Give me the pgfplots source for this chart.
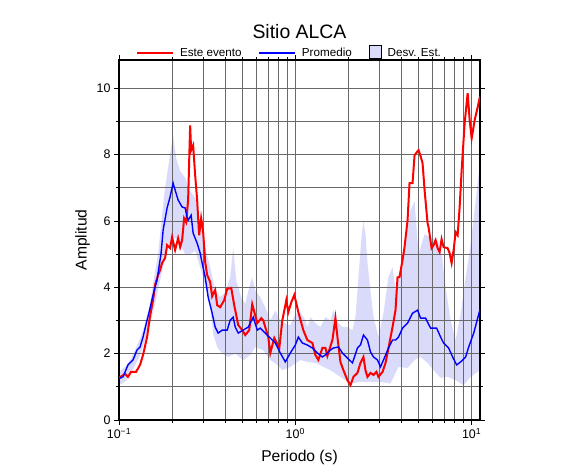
\documentclass[border=0pt]{standalone}
\usepackage{fontspec}
\setmainfont{Liberation Sans}
\usepackage{pgfplots}
\pgfplotsset{compat=1.18}
\definecolor{bandcol}{RGB}{218,218,250}
\definecolor{gridcol}{RGB}{105,105,105}

\begin{document}
\begin{tikzpicture}
\begin{axis}[
    set layers,
    scale only axis,
    width=361bp, height=360bp,
    xmode=log,
    xmin=0.1, xmax=11.15,
    ymin=0, ymax=10.85,
    xtick={0.1,1,10},
    xticklabels={10\textsuperscript{−1},10\textsuperscript{0},10\textsuperscript{1}},
    ytick={0,2,4,6,8,10},
    minor ytick={1,3,5,7,9},
    /pgf/number format/assume math mode=true,
    grid=both,
    grid style={draw=gridcol, line width=0.75bp},
    major grid style={draw=gridcol, line width=0.75bp},
    tick align=outside,
    major tick length=5bp,
    minor tick length=3bp,
    tick style={black, line width=0.75bp},
    axis line style={line width=1.6bp},
    ticklabel style={font=\fontsize{12.5}{14}\selectfont},
    xlabel={Periodo (s)},
    ylabel={Amplitud},
    label style={font=\fontsize{15.7}{18}\selectfont},
    xlabel style={yshift=-4bp},
    title={Sitio ALCA},
    title style={font=\fontsize{19.5}{22}\selectfont, at={(0.5,1)}, anchor=base, yshift=16bp},
    legend columns=3,
    legend style={draw=none, fill=none, at={(0.5,1)}, anchor=south, yshift=-2bp, xshift=-8bp,
        font=\fontsize{11.7}{13}\selectfont,
        nodes={inner xsep=6bp},
        /tikz/every even column/.append style={column sep=11bp}},
    legend image code/.code={\draw[#1] (0bp,0bp) -- (36bp,0bp);},
]

% banda de desviacion estandar (superior y luego inferior en orden inverso)
\addplot[fill=bandcol, draw=none, on layer=axis background, forget plot] coordinates {
(0.1000,1.45) (0.1082,1.6) (0.1155,1.8) (0.1233,2.1) (0.1316,2.45) (0.1405,2.9)
(0.1500,3.5) (0.1560,4.1) (0.1666,5.0) (0.1733,5.9) (0.1826,7.0) (0.1948,8.0)
(0.2027,8.6) (0.2108,7.9) (0.2222,7.5) (0.2372,7.3) (0.2532,6.9) (0.2703,6.7)
(0.2886,6.0) (0.3081,5.2) (0.3289,4.6) (0.3512,3.9) (0.3749,3.7) (0.4002,3.85)
(0.4273,4.3) (0.4443,5.2) (0.4621,4.2) (0.4933,3.7) (0.5199,3.5) (0.5478,4.0)
(0.5697,4.3) (0.5925,3.9) (0.6327,3.7) (0.6754,3.4) (0.7211,3.0) (0.7698,3.3)
(0.8218,3.0) (0.8774,2.9) (0.9367,2.85) (1.000,3.2) (1.068,3.25) (1.140,3.0)
(1.170,2.8) (1.217,3.1) (1.299,2.92) (1.387,2.8) (1.481,3.1) (1.581,3.0)
(1.644,3.31) (1.733,2.95) (1.850,2.8) (1.974,2.8) (2.108,2.71) (2.193,3.1)
(2.280,4.3) (2.372,5.5) (2.434,6.0) (2.499,5.6) (2.565,4.73) (2.668,3.9)
(2.774,3.1) (2.961,2.5) (3.162,3.22) (3.375,4.31) (3.558,4.6) (3.700,3.9)
(3.950,4.6) (4.217,5.5) (4.502,6.3) (4.743,6.6) (4.998,5.0) (5.407,5.6)
(5.848,5.5) (6.411,5.4) (6.754,5.0) (7.117,4.0) (7.598,3.0) (8.111,2.4)
(8.660,3.2) (9.245,4.3) (9.870,5.3) (10.54,6.6) (11.15,7.8)
(11.15,1.5) (9.870,1.3) (9.005,1.05) (8.111,1.2) (7.306,1.3) (6.666,1.27)
(6.084,1.5) (5.623,1.72) (5.131,1.9) (4.743,1.81) (4.329,1.57) (3.847,1.6)
(3.466,1.1) (3.041,1.15) (2.668,1.15) (2.341,1.15) (2.054,1.1) (1.802,1.3)
(1.581,1.5) (1.443,1.6) (1.299,1.72) (1.170,1.75) (1.068,1.81) (0.9367,1.6)
(0.8437,1.5) (0.7902,1.66) (0.7211,1.81) (0.6579,2.1) (0.5925,2.2) (0.5550,1.96)
(0.5064,1.8) (0.4561,2.0) (0.4162,1.9) (0.3847,2.0) (0.3604,2.2) (0.3421,2.6)
(0.3289,3.4) (0.3001,4.3) (0.2811,4.8) (0.2703,5.1) (0.2532,5.0) (0.2372,5.0)
(0.2222,5.3) (0.2081,5.5) (0.1948,5.3) (0.1826,4.9) (0.1710,4.2) (0.1602,3.5)
(0.1500,2.9) (0.1405,2.4) (0.1316,1.95) (0.1233,1.65) (0.1155,1.35) (0.1082,1.15)
(0.1000,1.05)
};

% este evento
\addplot[red, line width=2bp] coordinates {
(0.1000,1.27) (0.1040,1.33) (0.1082,1.39) (0.1125,1.30) (0.1170,1.45) (0.1249,1.45)
(0.1316,1.66) (0.1369,1.96) (0.1443,2.50) (0.1500,3.13) (0.1560,3.61) (0.1602,4.07)
(0.1666,4.37) (0.1710,4.52) (0.1755,4.73) (0.1826,4.88) (0.1874,5.27) (0.1948,5.18)
(0.2000,5.51) (0.2081,5.12) (0.2164,5.48) (0.2222,5.21) (0.2280,5.42) (0.2341,6.08)
(0.2403,5.96) (0.2466,6.63) (0.2532,8.88) (0.2565,8.13) (0.2633,8.28) (0.2703,7.38)
(0.2774,6.63) (0.2848,5.57) (0.2923,6.08) (0.3001,5.66) (0.3081,4.76) (0.3162,4.37)
(0.3289,4.16) (0.3375,3.73) (0.3512,3.92) (0.3604,3.46) (0.3749,3.40) (0.3950,3.61)
(0.4108,3.95) (0.4329,3.98) (0.4502,3.46) (0.4743,2.86) (0.4998,2.71) (0.5199,2.56)
(0.5478,2.71) (0.5697,3.49) (0.6084,2.92) (0.6411,3.07) (0.6579,3.00) (0.7024,2.50)
(0.7211,2.02) (0.7598,2.47) (0.8111,2.17) (0.8437,3.00) (0.8890,3.61) (0.9125,3.25)
(0.9490,3.55) (0.9870,3.77) (1.040,3.25) (1.111,2.70) (1.170,2.41) (1.249,2.32)
(1.299,1.96) (1.351,1.81) (1.424,2.17) (1.481,2.17) (1.520,1.93) (1.623,2.41)
(1.688,3.07) (1.733,2.50) (1.802,1.75) (1.874,1.50) (1.974,1.20) (2.054,1.05)
(2.136,1.30) (2.251,1.42) (2.341,1.72) (2.434,1.90) (2.499,1.50) (2.565,1.30)
(2.668,1.42) (2.774,1.36) (2.886,1.45) (2.961,1.30) (3.122,1.45) (3.246,1.72)
(3.375,2.17) (3.558,2.80) (3.700,3.31) (3.798,4.30) (3.899,4.31) (4.055,4.82)
(4.162,5.21) (4.329,6.02) (4.443,7.14) (4.621,7.14) (4.743,7.98) (4.933,8.10)
(4.998,8.13) (5.131,7.95) (5.267,7.74) (5.407,6.93) (5.623,5.93) (5.697,5.81)
(5.925,5.18) (6.084,5.27) (6.245,5.42) (6.411,5.18) (6.579,5.06) (6.754,5.45)
(6.931,5.21) (7.306,5.18) (7.499,5.03) (7.698,4.73) (7.902,5.12) (8.111,5.66)
(8.326,5.57) (8.547,6.42) (8.774,7.53) (9.125,8.95) (9.490,9.85) (9.742,9.04)
(10.00,8.49) (10.40,9.04) (10.82,9.43) (11.15,9.75)
};
\addlegendentry{Este evento}

% promedio
\addplot[blue, line width=1.4bp] coordinates {
(0.1000,1.25) (0.1054,1.30) (0.1125,1.66) (0.1201,1.81) (0.1265,2.11) (0.1316,2.20)
(0.1369,2.50) (0.1443,3.01) (0.1500,3.37) (0.1560,3.77) (0.1644,4.22) (0.1666,4.43)
(0.1733,5.03) (0.1779,5.72) (0.1874,6.39) (0.1948,6.72) (0.2027,7.14) (0.2081,6.93)
(0.2164,6.63) (0.2280,6.42) (0.2372,6.39) (0.2434,6.11) (0.2466,6.02) (0.2565,6.17)
(0.2633,5.63) (0.2774,5.33) (0.2886,5.03) (0.2961,4.73) (0.3081,4.31) (0.3204,3.70)
(0.3375,3.22) (0.3512,2.80) (0.3652,2.62) (0.3847,2.71) (0.4108,2.71) (0.4273,3.01)
(0.4443,3.10) (0.4561,2.80) (0.4743,2.62) (0.5064,2.71) (0.5407,2.80) (0.5772,3.10)
(0.6084,2.71) (0.6327,2.77) (0.6754,2.62) (0.7211,2.47) (0.7698,2.32) (0.8218,2.02)
(0.8774,1.75) (0.9367,2.02) (1.000,2.26) (1.040,2.50) (1.096,2.32) (1.170,2.26)
(1.249,2.17) (1.333,2.02) (1.424,1.90) (1.481,1.96) (1.581,2.11) (1.644,2.17)
(1.755,2.20) (1.850,2.02) (1.974,1.87) (2.108,1.72) (2.251,2.17) (2.341,2.26)
(2.434,2.56) (2.565,2.41) (2.668,2.05) (2.774,1.90) (2.923,1.81) (3.041,1.60)
(3.246,1.95) (3.375,2.17) (3.558,2.41) (3.700,2.41) (3.847,2.50) (4.055,2.77)
(4.329,2.92) (4.621,3.22) (4.933,3.31) (5.131,3.07) (5.478,3.07) (5.848,2.77)
(6.327,2.77) (6.666,2.50) (6.931,2.32) (7.400,2.17) (7.799,1.90) (8.218,1.66)
(8.660,1.75) (9.245,1.90) (9.617,2.20) (10.27,2.62) (11.15,3.33)
};
\addlegendentry{Promedio}

\addlegendimage{legend image code/.code={\draw[fill=bandcol, draw=black, line width=0.8bp] (4bp,-6bp) rectangle (16bp,7bp);}}
\addlegendentry{Desv. Est.}

\end{axis}
\path[use as bounding box] (current axis.south west) ++(-119bp,-55bp) rectangle ++(586bp,475bp);
\end{tikzpicture}
\end{document}
